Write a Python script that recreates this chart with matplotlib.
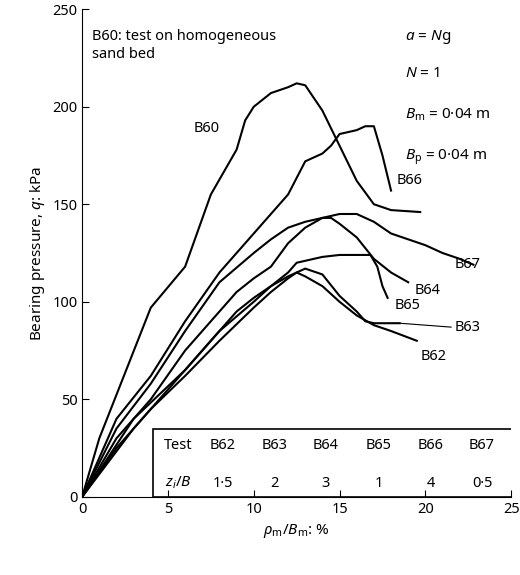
import numpy as np
import matplotlib.pyplot as plt
from matplotlib.patches import Rectangle

plt.rcParams['font.family'] = ['Noto Sans', 'DejaVu Sans']
plt.rcParams['mathtext.fontset'] = 'custom'
plt.rcParams['mathtext.rm'] = 'Noto Sans'
plt.rcParams['mathtext.it'] = 'Noto Sans:italic'

b60_x = [0, 1, 4, 6, 7.5, 9, 9.5, 10, 11, 12, 12.5, 13, 14, 15, 16, 17, 18, 19.7]
b60_y = [0, 30, 97, 118, 155, 178, 193, 200, 207, 210, 212, 211, 198, 180, 162, 150, 147, 146]
b66_x = [0, 2, 4, 6, 8, 10, 12, 13, 14, 14.5, 15, 16, 16.5, 17, 17.5, 18]
b66_y = [0, 40, 62, 90, 115, 135, 155, 172, 176, 180, 186, 188, 190, 190, 175, 157]
b67_x = [0, 2, 4, 6, 8, 10, 11, 12, 13, 14, 15, 16, 17, 18, 19, 20, 21, 22, 22.8]
b67_y = [0, 35, 58, 85, 110, 125, 132, 138, 141, 143, 145, 145, 141, 135, 132, 129, 125, 122, 119]
b64_x = [0, 2, 4, 6, 7, 8, 9, 10, 11, 12, 13, 14, 14.5, 15, 16, 17, 18, 19]
b64_y = [0, 30, 50, 75, 85, 95, 105, 112, 118, 130, 138, 143, 143, 140, 133, 122, 115, 110]
b65_x = [0, 3, 6, 8, 10, 11, 12, 12.5, 13, 14, 15, 16, 16.8, 17.2, 17.5, 17.8]
b65_y = [0, 40, 65, 85, 100, 108, 115, 120, 121, 123, 124, 124, 124, 118, 108, 102]
b63_x = [0, 3, 5, 7, 9, 10, 11, 12, 13, 14, 15, 16, 16.5, 17, 18.5]
b63_y = [0, 35, 55, 75, 95, 102, 108, 113, 117, 114, 103, 95, 90, 89, 89]
b62_x = [0, 2, 4, 6, 8, 10, 11, 12, 12.5, 13, 14, 15, 16, 17, 18, 19.5]
b62_y = [0, 25, 45, 62, 80, 97, 105, 112, 115, 113, 108, 100, 93, 88, 85, 80]

labels = ['B60', 'B66', 'B67', 'B64', 'B65', 'B63', 'B62']
label_pos = [(6.5, 189), (18.3, 162), (21.7, 119), (19.4, 106), (18.2, 98), (21.7, 87), (19.7, 72)]

tests = ['B62', 'B63', 'B64', 'B65', 'B66', 'B67']
zi_b = ['1·5', '2', '3', '1', '4', '0·5']
col_x = [8.2, 11.2, 14.2, 17.3, 20.3, 23.3]

fig, ax = plt.subplots(figsize=(5.2, 5.75), dpi=100)
fig.subplots_adjust(left=0.158, right=0.983, top=0.984, bottom=0.136)

for xs, ys in [(b60_x, b60_y), (b66_x, b66_y), (b67_x, b67_y), (b64_x, b64_y),
               (b65_x, b65_y), (b63_x, b63_y), (b62_x, b62_y)]:
    ax.plot(xs, ys, color='black', lw=1.5)

for lab, (lx, ly) in zip(labels, label_pos):
    ax.text(lx, ly, lab, fontsize=10.5, va='center')
ax.plot([18.5, 21.5], [89, 87], color='black', lw=0.8)

ax.add_patch(Rectangle((4.1, 0), 21, 35, fill=False, lw=1.2, ec='black', zorder=3))
ax.text(5.6, 26.5, 'Test', fontsize=10.5, ha='center', va='center')
ax.text(5.6, 7, r'$z_i/B$', fontsize=11, ha='center', va='center')
for cx, t, z in zip(col_x, tests, zi_b):
    ax.text(cx, 26.5, t, fontsize=10.5, ha='center', va='center')
    ax.text(cx, 7, z, fontsize=10.5, ha='center', va='center')

ax.text(0.6, 240, 'B60: test on homogeneous\nsand bed', fontsize=10.5, va='top', linespacing=1.3)
ax.text(18.8, 236, r'$a$ = $N$g', fontsize=11, va='center')
ax.text(18.8, 217, r'$N$ = 1', fontsize=11, va='center')
ax.text(18.8, 196, r'$B_{\rm m}$ = 0·04 m', fontsize=11, va='center')
ax.text(18.8, 174, r'$B_{\rm p}$ = 0·04 m', fontsize=11, va='center')

ax.set_xlim(0, 25)
ax.set_ylim(0, 250)
ax.set_xticks(np.arange(0, 26, 5))
ax.set_yticks(np.arange(0, 251, 50))
ax.tick_params(direction='in', labelsize=10.5, length=5)
ax.spines['top'].set_visible(False)
ax.spines['right'].set_visible(False)
ax.set_xlabel(r'$\rho_{\rm m}/B_{\rm m}$: %', fontsize=11)
ax.set_ylabel(r'Bearing pressure, $q$: kPa', fontsize=11)

fig.savefig('out.png')
